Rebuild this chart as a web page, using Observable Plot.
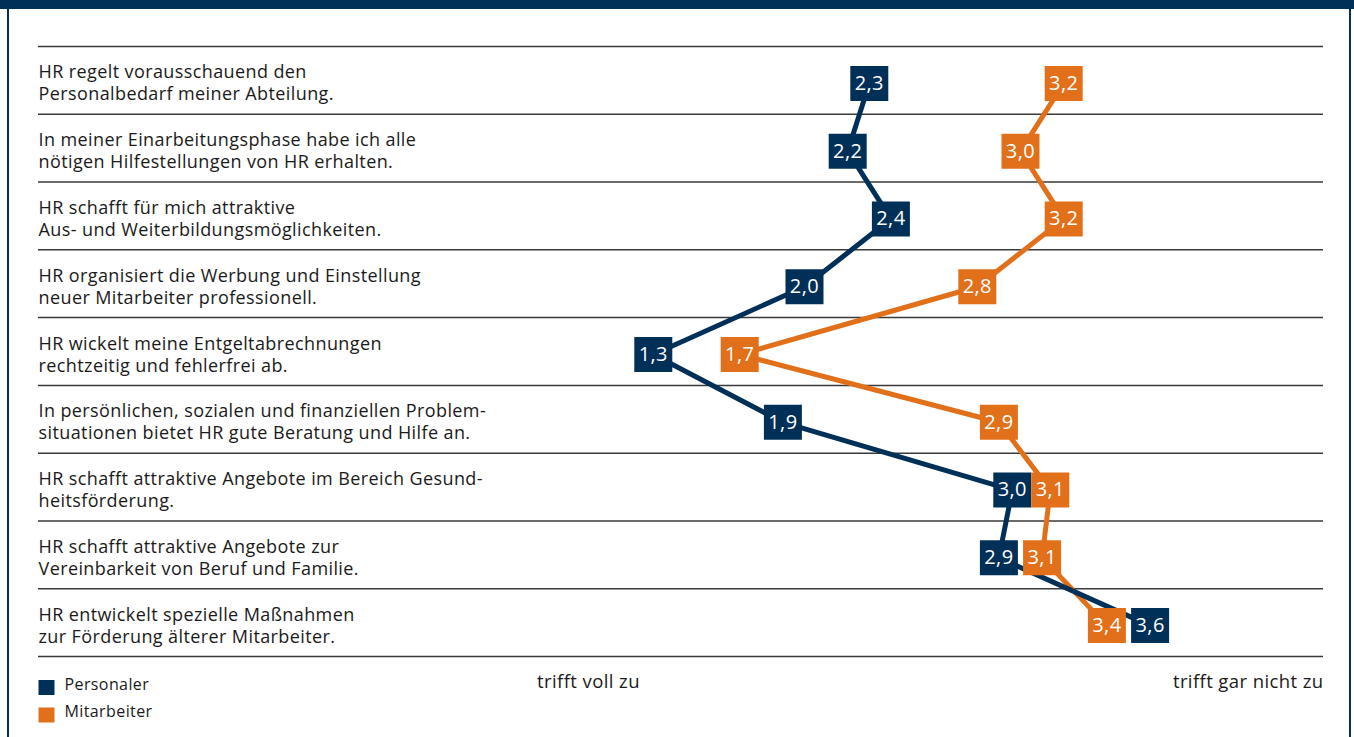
<!DOCTYPE html>
<html>
<head>
<meta charset="utf-8">
<script src="https://cdn.jsdelivr.net/npm/d3@7"></script>
<script src="https://cdn.jsdelivr.net/npm/@observablehq/plot@0.6"></script>
<style>
  html, body { margin: 0; padding: 0; background: #fff; }
  #wrap { position: relative; width: 1354px; height: 737px; overflow: hidden; }
  #topbar { position: absolute; left: 0; top: 0; width: 1354px; height: 9px; background: #003057; }
  #lb { position: absolute; left: 7px; top: 0; width: 2px; height: 737px; background: #003057; }
  #rb { position: absolute; left: 1349px; top: 0; width: 2px; height: 737px; background: #003057; }
  #chart { position: absolute; left: 0; top: 0; }
</style>
</head>
<body>
<div id="wrap">
  <div id="chart"></div>
  <div id="topbar"></div>
  <div id="lb"></div>
  <div id="rb"></div>
</div>
<script>
const items = [
  "HR regelt vorausschauend den\nPersonalbedarf meiner Abteilung.",
  "In meiner Einarbeitungsphase habe ich alle\nnötigen Hilfestellungen von HR erhalten.",
  "HR schafft für mich attraktive\nAus- und Weiterbildungsmöglichkeiten.",
  "HR organisiert die Werbung und Einstellung\nneuer Mitarbeiter professionell.",
  "HR wickelt meine Entgeltabrechnungen\nrechtzeitig und fehlerfrei ab.",
  "In persönlichen, sozialen und finanziellen Problem-\nsituationen bietet HR gute Beratung und Hilfe an.",
  "HR schafft attraktive Angebote im Bereich Gesund-\nheitsförderung.",
  "HR schafft attraktive Angebote zur\nVereinbarkeit von Beruf und Familie.",
  "HR entwickelt spezielle Maßnahmen\nzur Förderung älterer Mitarbeiter."
];
const personaler  = [2.3, 2.2, 2.4, 2.0, 1.3, 1.9, 3.0, 2.9, 3.6];
const mitarbeiter = [3.2, 3.0, 3.2, 2.8, 1.7, 2.9, 3.1, 3.1, 3.4];
const seriesNames = ["Personaler", "Mitarbeiter"];
const colors = ["#003057", "#e2701a"];
const axisEnds = ["trifft voll zu", "trifft gar nicht zu"];

const W = 1354, H = 737;
const mL = 38, mR = 31, mT = 46, mB = 81;
const xDomain = [-1.5463, 4.4028];
const boxW = 38, boxH = 35;
const pxPerUnit = (W - mL - mR) / (xDomain[1] - xDomain[0]);
const boxUnits = boxW / pxPerUnit;

// build points; push apart boxes in the same row that would overlap
const points = [];
items.forEach((_, i) => {
  const a = personaler[i], b = mitarbeiter[i];
  let pa = a, pb = b;
  if (Math.abs(a - b) < boxUnits) {
    const mid = (a + b) / 2;
    const sgn = a <= b ? 1 : -1;
    pa = mid - sgn * boxUnits / 2;
    pb = mid + sgn * boxUnits / 2;
  }
  points.push({series: "Personaler", row: i, yc: i + 0.5, value: a, pos: pa});
  points.push({series: "Mitarbeiter", row: i, yc: i + 0.5, value: b, pos: pb});
});
points.forEach(d => d.label = d.value.toFixed(1).replace(".", ","));
const lineOrder = [...points.filter(d => d.series === "Mitarbeiter"), ...points.filter(d => d.series === "Personaler")];

const boxSymbol = {draw(ctx) { ctx.rect(-boxW / 2, -boxH / 2, boxW, boxH); }};
const legendSquare = {draw(ctx) { ctx.rect(-8, -7.5, 16, 15); }};

const font = "'Open Sans', 'Noto Sans', sans-serif";

const marks = [
  Plot.ruleY(d3.range(items.length + 1), {stroke: "#3a3a3a", strokeWidth: 1.5}),
  Plot.text(items, {
    y: (d, i) => i + 0.5, text: d => d, frameAnchor: "left", textAnchor: "start",
    lineAnchor: "middle", dy: 2, fontSize: 18, lineHeight: 1.22, fill: "#1a1a1a"
  }),
  Plot.line(lineOrder, {x: "pos", y: "yc", z: "series", stroke: "series", strokeWidth: 5, dy: 3, strokeLinejoin: "miter", curve: "linear"}),
  Plot.dot(points, {x: "pos", y: "yc", fill: "series", symbol: boxSymbol, dy: 3}),
  Plot.text(points, {x: "pos", y: "yc", text: "label", fill: "white", fontSize: 20, dy: 3}),
  Plot.text([axisEnds[0]], {x: 1, frameAnchor: "bottom", text: d => d, textAnchor: "middle", dy: 31, fontSize: 18.5, fill: "#1a1a1a"}),
  Plot.text([axisEnds[1]], {frameAnchor: "bottom-right", text: d => d, textAnchor: "end", dy: 31, fontSize: 18.5, fill: "#1a1a1a"})
];
seriesNames.forEach((s, i) => {
  marks.push(Plot.dot([s], {frameAnchor: "bottom-left", dx: 8, dy: 31 + i * 27.5, fill: colors[i], symbol: legendSquare}));
  marks.push(Plot.text([s], {frameAnchor: "bottom-left", text: d => d, textAnchor: "start", dx: 26, dy: 33 + i * 27.5, fontSize: 16, fill: "#1a1a1a"}));
});

const chart = Plot.plot({
  width: W, height: H,
  marginLeft: mL, marginRight: mR, marginTop: mT, marginBottom: mB,
  x: {domain: xDomain, axis: null},
  y: {domain: [items.length, 0], axis: null},
  color: {domain: seriesNames, range: colors},
  style: {fontFamily: font, background: "transparent", overflow: "visible", letterSpacing: "0.4px"},
  marks
});
document.getElementById("chart").appendChild(chart);
</script>
</body>
</html>
